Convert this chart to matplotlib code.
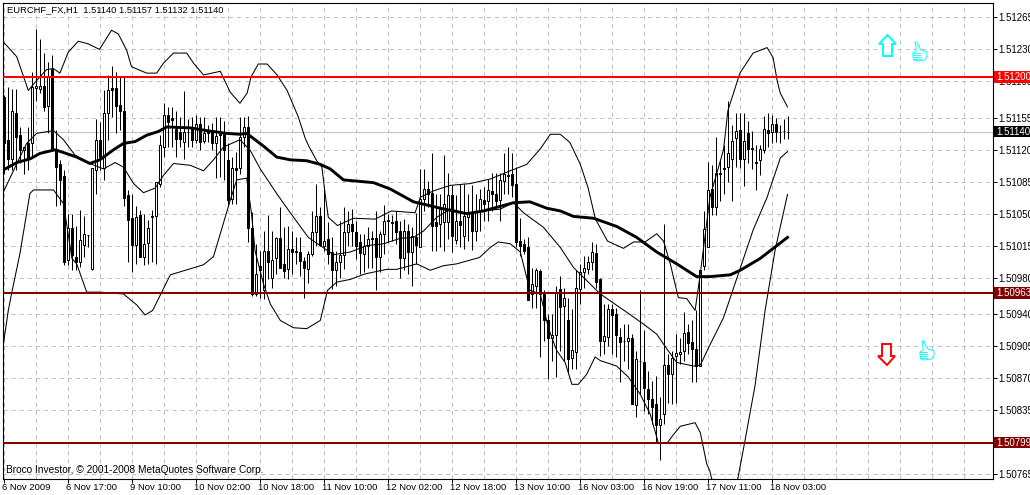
import matplotlib
matplotlib.use("Agg")
import matplotlib.pyplot as plt
import numpy as np
from matplotlib.patches import Polygon, Rectangle
from matplotlib.transforms import ScaledTranslation

plt.rcParams['font.family'] = ['Liberation Sans', 'DejaVu Sans']
plt.rcParams['lines.scale_dashes'] = False

# prices are stored as points above 1.50000
open_pts = [1178,1131,1110,1160,1136,1120,1127,1127,1188,1187,
            1190,1168,1209,1121,1104,1091,999,1034,1003,997,
            1016,1027,989,1098,1131,1100,1160,1188,1188,1169,
            1162,1070,1045,1016,1048,1003,1018,1047,1047,1083,
            1123,1158,1155,1143,1140,1128,1140,1145,1131,1148,
            1130,1140,1140,1127,1137,1138,1109,1066,1100,1100,
            1134,1145,1034,962,993,966,1009,980,1001,1023,
            995,989,1011,1009,1008,998,989,1006,1030,1047,
            1015,1022,1008,988,997,1005,1030,1039,1030,1019,
            1006,1015,1023,1023,1003,1028,1043,1041,1042,1031,
            1001,1031,1008,1024,1014,1066,1077,1073,1041,1039,
            1041,1041,1070,1021,1042,1026,1046,1051,1031,1053,
            1065,1064,1075,1072,1065,1086,1092,1093,1083,1020,
            1017,1013,962,971,987,962,933,914,917,967,
            949,933,892,898,967,986,989,997,1007,978,
            910,915,945,940,915,911,910,914,840,889,
            888,858,847,841,818,830,884,874,894,896,
            899,920,909,902,883,993,1013,1077,1057,1095,
            1100,1101,1110,1133,1142,1110,1138,1122,1107,1109,
            1120,1142,1139,1148,1140,1141,1140]
high_pts = [1180,1189,1187,1187,1145,1123,1145,1205,1252,1241,
            1226,1216,1224,1142,1109,1098,1050,1050,1036,1054,
            1047,1027,1100,1154,1151,1185,1202,1212,1205,1200,
            1200,1076,1072,1058,1054,1050,1043,1054,1085,1136,
            1171,1167,1167,1162,1156,1184,1154,1156,1158,1156,
            1156,1147,1149,1156,1156,1152,1127,1112,1118,1156,
            1156,1157,1052,1017,1009,1031,1048,1031,1024,1057,
            1035,1037,1031,1024,1024,1002,1009,1053,1083,1057,
            1079,1041,1024,1009,1042,1057,1053,1055,1042,1028,
            1028,1035,1031,1053,1031,1059,1050,1048,1053,1042,
            1044,1039,1035,1051,1099,1099,1086,1117,1072,1072,
            1114,1095,1081,1070,1083,1083,1072,1081,1072,1077,
            1079,1088,1095,1095,1095,1117,1123,1117,1101,1045,
            1022,1024,991,991,989,966,940,940,971,982,
            969,958,945,988,995,1004,1004,1019,1017,980,
            951,951,951,947,925,929,929,918,900,966,
            922,878,867,872,849,1039,896,900,918,914,
            942,929,933,944,988,1053,1107,1103,1134,1110,
            1125,1174,1147,1160,1160,1160,1152,1141,1125,1125,
            1157,1160,1158,1155,1147,1154,1157]
low_pts = [1094,1098,1098,1098,1105,1094,1098,1112,1174,1182,
           1163,1138,1120,1058,1059,994,994,988,988,992,
           1003,1014,988,1072,1098,1087,1131,1156,1138,1142,
           1058,997,986,995,1003,994,995,997,995,1079,
           1112,1123,1123,1112,1123,1110,1123,1123,1127,1120,
           1127,1129,1120,1089,1090,1087,1058,1061,1061,1094,
           1123,1019,960,960,958,957,978,969,984,991,
           980,978,984,995,982,958,974,1004,1015,1015,
           1009,995,967,971,980,989,1015,1015,1000,984,
           986,991,991,966,986,1006,1019,1020,1017,980,
           988,984,971,995,1013,1053,1057,1009,1009,1013,
           1009,1022,1008,1017,1013,1011,1020,1010,1020,1031,
           1042,1042,1053,1057,1042,1072,1072,1068,1013,1004,
           1006,955,947,947,893,911,869,889,871,900,
           889,874,880,880,951,969,984,988,969,894,
           896,905,896,893,865,889,880,841,827,852,
           834,830,819,799,780,819,843,841,843,885,
           889,896,865,865,883,988,1013,1048,1048,1064,
           1072,1085,1064,1101,1100,1080,1105,1099,1076,1092,
           1116,1123,1127,1128,1127,1132,1132]
close_pts = [1127,1110,1162,1134,1120,1123,1110,1189,1190,1190,
             1167,1200,1121,1101,1087,997,1034,1005,997,1021,
             1028,1027,1100,1131,1112,1160,1186,1185,1168,1162,
             1067,1043,1016,1046,1003,1017,1034,1046,1085,1125,
             1158,1151,1153,1132,1132,1140,1139,1131,1148,1129,
             1138,1138,1127,1135,1136,1120,1065,1100,1098,1134,
             1145,1034,962,984,988,1009,997,999,1023,991,
             987,1011,1008,1008,998,991,1006,1030,1047,1016,
             1020,1006,988,997,1005,1030,1039,1031,1015,1007,
             1015,1022,1022,1003,1028,1042,1042,1040,1030,1001,
             1031,1008,1025,1016,1066,1077,1072,1037,1036,1055,
             1061,1070,1026,1042,1038,1047,1050,1031,1052,1066,
             1061,1076,1072,1064,1087,1093,1091,1081,1019,1015,
             1009,955,973,988,962,933,914,917,964,948,
             958,891,901,969,986,990,997,1008,975,910,
             916,945,939,917,909,911,914,841,891,889,
             859,847,838,818,825,884,874,892,897,898,
             919,908,902,883,988,1033,1076,1057,1095,1093,
             1099,1116,1130,1141,1110,1130,1121,1121,1106,1121,
             1143,1138,1148,1139,1139,1141,1140]

# indicators read at their bends: bar number, points
ma_bars = [0,3.3,6.6,9.1,12.9,15,18.3,21.6,24.1,27.5,30,32.9,35.8,38.7,40.8,46.7,50.8,55.8,59.1,60.8,
           65,68.3,71.7,75.8,79.2,81.7,85,92.5,96.7,102.5,109.2,115.8,120,127.5,131.6,135.8,139.2,
           142.5,147.5,153.3,158.3,163.3,168.3,173.3,176.6,181.7,184.2,189.2,196]
ma_pts = [1098,1106,1110,1116,1120,1117,1112,1105,1109,1120,1127,1129,1136,1140,1145,1144,1141,1138,1137,1138,
          1124,1112,1109,1108,1104,1099,1087,1084,1077,1063,1056,1050,1053,1062,1063,1056,1053,
          1047,1045,1036,1024,1008,995,981,981,983,988,1001,1024]

upper_bars = [0,3.3,6.2,8.3,10.8,12.5,14.1,16.2,18.7,21.2,24,27,28.7,30.8,32,35.8,38.3,40,42.5,45.8,47.5,50,
              54.2,56.7,59.1,60.9,61.9,63.7,65.9,68.4,70.9,73.7,75.4,76.2,78.3,79.6,80.4,81.2,83.5,87.5,92.9,97,
              102.9,104.2,107.5,111.7,116.7,121.7,126.7,130.8,134.2,136.7,139.2,141.6,144.2,146.1,148,151,155,
              157.5,160.4,163.3,165,166.7,168.7,170.8,172.9,174.2,176.6,180,181.1,184.1,187.4,190.9,192.4,193.4,194.2,196]
upper_pts = [1238,1222,1185,1196,1208,1209,1204,1227,1239,1236,1230,1251,1247,1229,1211,1204,1204,1215,1226,1226,1215,1202,
             1206,1183,1171,1182,1200,1214,1214,1202,1185,1156,1133,1125,1108,1101,1072,1046,1037,1045,1044,1053,
             1051,1068,1075,1081,1083,1088,1097,1104,1121,1137,1137,1128,1104,1079,1044,1020,1012,
             1019,1019,1028,1020,995,958,957,944,984,1068,1120,1163,1204,1226,1232,1221,1196,1182,1167]

middle_bars = [0,4.1,5.8,8.3,12.5,15,17.9,21.6,25,27.9,30,32.5,35,37.9,40,42.5,46.7,50,52.5,55,59.1,61.6,
               64.2,68.3,71.7,76.2,82.5,86.7,90.8,95,99.2,102.5,105,108.3,111.7,115.8,120,124.2,127.5,
               130,135,139.2,142.5,149.2,155.8,160,163.3,165.8,168.3,172.5,174.2,176.7,180,181.7,187.4,190.9,194.2,196]
middle_pts = [1074,1112,1127,1138,1141,1131,1114,1105,1099,1106,1101,1083,1073,1078,1092,1105,1103,1097,1109,1123,1131,1120,
              1099,1072,1051,1024,1005,1008,1015,1017,1023,1024,1031,1046,1055,1050,1053,1055,1062,
              1051,1035,1013,991,962,942,929,918,902,887,883,884,907,936,958,1032,1068,1111,1118]

lower_bars = [0,1.2,2,4.1,6.6,7.5,12.5,15,17.1,18.3,20.8,24.1,30,33.3,35.4,37.3,41.7,50,52.5,56.7,58.3,60.8,62,
              62.9,65,66.7,69.2,72.5,75.8,79.2,80.4,81,83.3,86.7,90.4,95.8,98.3,101.7,103.3,106.7,110,113.3,119,121.7,123.7,126.7,
              129.2,131.6,134.2,136.2,138.3,140.4,142.1,143.7,145.8,147.9,149.2,153.3,156.2,159.2,161.7,163.7,165.8,167.5,169.2,
              172.9,174.2,175.8,176.6,177,180,183.6,185.4,187.9,190.4,192.9,196]
lower_pts = [908,944,962,1006,1072,1076,1076,1061,1001,995,964,964,962,950,939,944,983,994,1003,1065,1087,1089,1050,
             1009,973,951,933,925,924,933,955,966,975,978,984,989,989,993,995,988,993,995,1002,1013,1019,1017,
             1008,966,962,925,900,887,863,863,874,893,889,883,871,852,830,799,798,808,817,
             821,810,776,768,760,740,760,802,862,944,1010,1071]

levels = [1.51200, 1.50963, 1.50799]
level_colors = ['#ff0000', '#800000', '#800000']
last_price = 1.51140

y_ticks = [1.51265, 1.51230, 1.51195, 1.51155, 1.51120, 1.51085, 1.51050, 1.51015,
           1.50980, 1.50940, 1.50905, 1.50870, 1.50835, 1.50800, 1.50765]
x_labels = ['6 Nov 2009', '6 Nov 17:00', '9 Nov 10:00', '10 Nov 02:00', '10 Nov 18:00',
            '11 Nov 10:00', '12 Nov 02:00', '12 Nov 18:00', '13 Nov 10:00', '16 Nov 03:00',
            '16 Nov 19:00', '17 Nov 11:00', '18 Nov 03:00']

W, H = 1030, 495


def to_price(pts):
    return 1.5 + np.array(pts) * 1e-5


fig = plt.figure(figsize=(W / 100, H / 100), dpi=100, facecolor='white')
ax = fig.add_axes([2.5 / W, 1 - 478.5 / H, 990 / W, 476 / H])
ax.set_xlim(-0.25, 247.25)
ax.set_ylim(1.507598, 1.512814)
ax.set_axisbelow(True)

o, h, l, c = map(to_price, (open_pts, high_pts, low_pts, close_pts))
bars = np.arange(len(o))

# grid, every 8 bars and at each price label
for b in range(0, 248, 8):
    ax.axvline(b, color='#c0c0c0', lw=0.72, ls=(0, (2.9, 2.9)), zorder=1)
for p in y_ticks:
    ax.axhline(p, color='#c0c0c0', lw=0.72, ls=(0, (2.9, 2.9)), zorder=1)
ax.axhline(last_price, color='#c0c0c0', lw=0.72, zorder=1)

ax.vlines(bars, l, h, color='black', lw=0.72, zorder=2)
up = c >= o
ax.bar(bars, c - o, bottom=o, width=0.5, color=np.where(up, 'white', 'black').tolist(),
       edgecolor='black', lw=0.72, zorder=3)

ax.plot(upper_bars, to_price(upper_pts), color='black', lw=0.75, zorder=4)
ax.plot(middle_bars, to_price(middle_pts), color='black', lw=0.75, zorder=4)
ax.plot(lower_bars, to_price(lower_pts), color='black', lw=0.75, zorder=4)
ax.plot(ma_bars, to_price(ma_pts), color='black', lw=2.1, zorder=5)

for p, col in zip(levels, level_colors):
    ax.axhline(p, color=col, lw=1.44, zorder=6)

ax.yaxis.tick_right()
ax.set_yticks(y_ticks)
ax.set_yticklabels(['%.5f' % p for p in y_ticks], fontsize=7, color='black')
ax.set_xticks(np.arange(len(x_labels)) * 16)
ax.set_xticklabels(x_labels, fontsize=6.8, ha='left', color='black')
ax.tick_params(axis='y', length=3, width=0.72, pad=1.5)
ax.tick_params(axis='x', length=3, width=0.72, pad=0.5)
shift = ScaledTranslation(-2 / 100, 0, fig.dpi_scale_trans)
for t in ax.get_xticklabels():
    t.set_transform(t.get_transform() + shift)
for s in ax.spines.values():
    s.set_linewidth(0.8)

# price tags on the right edge
tr = ax.get_yaxis_transform()
for p, col in zip(levels + [last_price], level_colors + ['black']):
    ax.add_patch(Rectangle((1.0015, p - 6.3e-5), 0.05, 12.6e-5, transform=tr, facecolor=col, edgecolor='none',
                           clip_on=False, zorder=7))
    ax.text(1.0035, p, '%.5f' % p, transform=tr, fontsize=7, color='white', va='center', ha='left', zorder=8,
            clip_on=False)

fig.text(7 / W, 1 - 10 / H, 'EURCHF_FX,H1  1.51140 1.51157 1.51132 1.51140', fontsize=6.75, va='center')
fig.text(6 / W, 1 - 470 / H, 'Broco Investor, © 2001-2008 MetaQuotes Software Corp.', fontsize=7.25, va='center')


# wingdings style signs, placed in figure pixels
def px_poly(pts, edge, face='white', lw=1.0):
    arr = np.array(pts, dtype=float)
    arr[:, 0] /= W
    arr[:, 1] = 1 - arr[:, 1] / H
    fig.add_artist(Polygon(arr, closed=True, transform=fig.transFigure, edgecolor=edge, facecolor=face, lw=lw))


def px_line(xs, ys, col, lw=0.6):
    fig.add_artist(plt.Line2D(np.array(xs) / W, 1 - np.array(ys) / H, transform=fig.transFigure, color=col, lw=lw))


px_poly([(887.5, 35), (896, 44), (892, 44), (892, 56), (883, 56), (883, 44), (879, 44)], '#00ffff', lw=1.4)
px_poly([(887, 365), (895, 356), (891, 356), (891, 344), (882, 344), (882, 356), (878, 356)], '#ff0000', lw=1.4)
thumb = [(3, 0), (5, 0), (7, 5), (9, 8), (15, 10), (15, 14), (13, 18), (5, 19), (2, 18), (1, 15), (1, 11), (4, 9), (4, 5)]
for dx, dy in ((912, 42), (919, 341)):
    px_poly([(x + dx, y + dy) for x, y in thumb], '#00ffff', lw=0.7)
    for fy in (11, 13, 15, 17):
        px_line([dx + 1, dx + 8], [dy + fy, dy + fy], '#00ffff')

fig.savefig('out.png', dpi=100, facecolor='white')
